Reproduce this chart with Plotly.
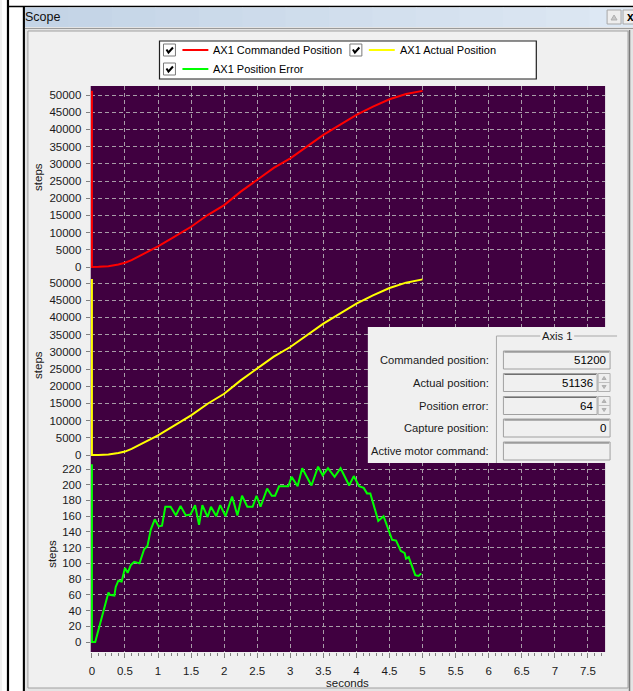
import plotly.graph_objects as go

W, H = 633, 691

# ---- data -------------------------------------------------------------
time_cmd = [0.0, 0.0, 0.1, 0.25, 0.4, 0.5, 0.6, 0.75, 0.9, 1.0, 1.25, 1.5, 1.75, 2.0,
            2.25, 2.5, 2.75, 3.0, 3.25, 3.5, 3.75, 4.0, 4.25, 4.5, 4.75, 4.9, 5.0]
cmd_pos = [51200, 0, 50, 250, 750, 1250, 2000, 3500, 4900, 6000, 8800, 11700, 15100, 18000,
           21900, 25300, 28800, 31600, 35000, 38400, 41300, 44200, 46600, 48750, 50300, 50900, 51200]

time_act = [0.0, 0.0, 0.1, 0.25, 0.4, 0.5, 0.6, 0.75, 0.9, 1.0, 1.25, 1.5, 1.75, 2.0,
            2.25, 2.5, 2.75, 3.0, 3.25, 3.5, 3.75, 4.0, 4.25, 4.5, 4.75, 4.9, 5.0]
act_pos = [51136, 0, 0, 150, 600, 1000, 1800, 3200, 4700, 5700, 8600, 11500, 14900, 17800,
           21700, 25100, 28600, 31400, 34800, 38200, 41100, 44000, 46400, 48550, 50100, 50750, 51050]

time_err = [0.0, 0.0, 0.05, 0.25, 0.27, 0.34, 0.36, 0.40, 0.45, 0.50,
            0.54, 0.59, 0.64, 0.72, 0.79, 0.84, 0.89, 0.95, 1.01, 1.06,
            1.11, 1.19, 1.27, 1.34, 1.42, 1.49, 1.56, 1.62, 1.67, 1.75,
            1.80, 1.88, 1.94, 2.02, 2.12, 2.20, 2.27, 2.35, 2.43, 2.49,
            2.55, 2.65, 2.72, 2.77, 2.83, 2.97, 3.02, 3.11, 3.18, 3.32,
            3.42, 3.49, 3.57, 3.67, 3.76, 3.89, 3.96, 4.04, 4.11, 4.16,
            4.21, 4.33, 4.41, 4.54, 4.60, 4.67, 4.73, 4.75, 4.79, 4.84,
            4.89, 4.94, 4.98]
pos_err = [226, 0, 0, 63, 60, 59, 70, 78, 77, 94,
           88, 98, 102, 100, 118, 122, 143, 156, 147, 148,
           172, 172, 161, 173, 161, 162, 174, 149, 174, 159,
           172, 160, 174, 160, 185, 161, 186, 172, 172, 186,
           172, 195, 186, 186, 198, 198, 210, 198, 221, 199,
           223, 212, 221, 210, 221, 199, 211, 198, 196, 189,
           189, 154, 160, 130, 129, 116, 113, 106, 108, 96,
           85, 84, 87]

series_names = ["AX1 Commanded Position", "AX1 Actual Position", "AX1 Position Error"]
series_colors = ["#ff0000", "#ffff00", "#00ff00"]

pos_ticks = list(range(0, 50001, 5000))
pos_labels = [str(v) for v in pos_ticks]
err_ticks = list(range(0, 221, 20))
err_labels = [str(v) for v in err_ticks]

axis_labels = ["Commanded position:", "Actual position:", "Position error:",
               "Capture position:", "Active motor command:"]
axis_values = ["51200", "51136", "64", "0", ""]

# ---- helpers (pixel -> paper) ----------------------------------------
def px(x):
    return x / W

def py(y):
    return 1 - y / H

FONT = "Liberation Sans, Arial, sans-serif"
BG = "#400040"
PL, PR, PT, PB = 89, 605, 86, 652
S1, S2 = 275, 462

fig = go.Figure()
fig.add_trace(go.Scatter(x=time_cmd, y=cmd_pos, mode="lines", xaxis="x", yaxis="y",
                         line=dict(color=series_colors[0], width=2), name=series_names[0]))
fig.add_trace(go.Scatter(x=time_act, y=act_pos, mode="lines", xaxis="x", yaxis="y2",
                         line=dict(color=series_colors[1], width=2), name=series_names[1]))
fig.add_trace(go.Scatter(x=time_err, y=pos_err, mode="lines", xaxis="x", yaxis="y3",
                         line=dict(color=series_colors[2], width=2), name=series_names[2]))

tickfont = dict(family=FONT, size=11.5, color="#1a1a1a")
grid = dict(showgrid=True, gridcolor="#a89ca8", gridwidth=1, griddash="4px,3px",
            zeroline=True, zerolinecolor=BG, zerolinewidth=1.5, showline=False,
            ticks="outside", tickcolor="#808080", tickfont=tickfont, fixedrange=True)

def yaxis(top, bottom, rng, vals, labels):
    d = dict(domain=[py(bottom), py(top)], range=rng, anchor="x",
             tickmode="array", tickvals=vals, ticktext=labels, ticklen=4, ticklabelstandoff=2)
    d.update(grid)
    return d

fig.update_layout(
    width=W, height=H, autosize=False,
    margin=dict(l=0, r=0, t=0, b=0, pad=0),
    paper_bgcolor="#f0f0f0", plot_bgcolor=BG, showlegend=False,
    xaxis=dict(domain=[px(PL), px(PR)], range=[-0.018, 7.76], anchor="y3",
               tickmode="linear", tick0=0, dtick=0.5, ticklen=5, ticklabelstandoff=3,
               minor=dict(tick0=0, dtick=0.1, ticks="outside", ticklen=3,
                          tickcolor="#808080", showgrid=False),
               **grid),
    yaxis=yaxis(PT, S1, [-2326, 52616], pos_ticks, pos_labels),
    yaxis2=yaxis(S1, S2, [-2034, 52326], pos_ticks, pos_labels),
    yaxis3=yaxis(S2, PB, [-12.7, 228.9], err_ticks, err_labels),
)

shapes = []
ann = []

def rect(x0, y0, x1, y1, fill=None, line=None, lw=1, layer="above"):
    shapes.append(dict(type="rect", xref="paper", yref="paper",
                       x0=px(x0), x1=px(x1), y0=py(y1), y1=py(y0),
                       fillcolor=fill or "rgba(0,0,0,0)",
                       line=dict(color=line or "rgba(0,0,0,0)", width=lw if line else 0),
                       layer=layer))

def hline(x0, x1, y, color, lw=1, layer="above"):
    shapes.append(dict(type="line", xref="paper", yref="paper",
                       x0=px(x0), x1=px(x1), y0=py(y), y1=py(y),
                       line=dict(color=color, width=lw), layer=layer))

def vline(x, y0, y1, color, lw=1, layer="above"):
    shapes.append(dict(type="line", xref="paper", yref="paper",
                       x0=px(x), x1=px(x), y0=py(y0), y1=py(y1),
                       line=dict(color=color, width=lw), layer=layer))

def text(x, y, s, size=11.5, xanchor="left", color="#1a1a1a", angle=0, bold=False):
    ann.append(dict(x=px(x), y=py(y), xref="paper", yref="paper", text=("<b>%s</b>" % s) if bold else s,
                    showarrow=False, xanchor=xanchor, yanchor="middle", textangle=angle,
                    font=dict(family=FONT, size=size, color=color)))

def path(points, color, lw=1, fill=None, closed=False):
    d = "M " + " L ".join("%f,%f" % (px(a), py(b)) for a, b in points)
    if closed:
        d += " Z"
    shapes.append(dict(type="path", xref="paper", yref="paper", path=d,
                       line=dict(color=color, width=lw),
                       fillcolor=fill or "rgba(0,0,0,0)", layer="above"))

# ---- window frame -----------------------------------------------------
rect(0, 0, 22, H, fill="#ffffff", layer="below")
rect(0, 0, W, 6, fill="#ffffff", layer="below")
vline(6, 0, H, "#000000", 2.2, layer="below")
vline(22, 6, H, "#000000", 2.2, layer="below")
hline(6, W, 6.5, "#000000", 1.5, layer="below")

# title bar with a soft horizontal gradient
n = 14
c0, c1 = (196, 212, 230), (221, 232, 244)
for i in range(n):
    f = i / (n - 1)
    col = "rgb(%d,%d,%d)" % tuple(int(c0[k] + (c1[k] - c0[k]) * f) for k in range(3))
    xa = 23 + (W - 23) * i / n
    xb = 23 + (W - 23) * (i + 1) / n + 1
    rect(xa, 7.5, xb, 27, fill=col, layer="below")
text(21, 17, "Scope", size=12.5, color="#101010")

rect(607, 10, 621, 24, fill="#eeeeee", line="#a8a8a8")
path([(611, 20), (614, 15), (617, 20)], "#b0b0b0", 1, fill="#c8c8c8", closed=True)
rect(623, 10, 640, 24, fill="#eeeeee", line="#a8a8a8")
text(625, 17, "x", size=12, color="#000000", bold=True)

rect(23, 27, W, H, fill="#e4e4e4", layer="below")
hline(23, W, 28.5, "#9a9a9a", 1, layer="below")
rect(26, 31, 628, 688, fill="#f0f0f0", line="#a0a0a0", lw=1, layer="below")
vline(629.5, 30, H, "#7a7a7a", 1.5, layer="below")

# plot area background (drawn as a shape so it sits above the frame panel)
rect(PL, PT, PR, PB, fill=BG, layer="below")

# ---- legend -------------------------------------------------------------
rect(158, 41, 536, 79, fill="#ffffff", line="#202020", lw=1.2)

def checkbox(x0, y0):
    rect(x0, y0, x0 + 12, y0 + 12, fill="#ffffff", line="#7a7a7a")
    path([(x0 + 3, y0 + 5.5), (x0 + 5, y0 + 8.5), (x0 + 9.5, y0 + 3.5)], "#000000", 2)

legend_rows = [(162, 50, 0), (349, 50, 1), (162, 69, 2)]
for lx, ly, idx in legend_rows:
    checkbox(lx, ly - 6)
    hline(lx + 19, lx + 45, ly, series_colors[idx], 2)
    text(lx + 48, ly, series_names[idx], size=11, color="#000000")

# ---- axis titles -------------------------------------------------------------
text(36, 177, "steps", size=11.5, xanchor="center", angle=-90)
text(36, 365, "steps", size=11.5, xanchor="center", angle=-90)
text(50, 554, "steps", size=11.5, xanchor="center", angle=-90)
text((PL + PR) / 2, 683, "seconds", size=11.5, xanchor="center")

# ---- axis status panel -----------------------------------------------------
rect(367, 327, 612, 463, fill="#f0f0f0")
hline(496, 540, 336, "#a8a8a8")
hline(574, 617, 336, "#a8a8a8")
vline(496, 336, 463, "#a8a8a8")
text(557, 336, "Axis 1", size=11.2, xanchor="center", color="#1a1a1a")

row_y = [360, 382.5, 405.5, 428, 451]
for i, (lab, val) in enumerate(zip(axis_labels, axis_values)):
    yc = row_y[i]
    text(491, yc, lab, size=11.2, xanchor="right")
    spin = i in (1, 2)
    right = 597 if spin else 610
    rect(503, yc - 9, right, yc + 9, fill="#f0f0f0", line="#a0a0a0")
    hline(504, right - 1, yc - 8, "#707070")
    if val:
        text(right - 2, yc, val, size=11.5, xanchor="right", color="#000000")
    if spin:
        rect(598, yc - 9, 610, yc + 9, fill="#eeeeee", line="#b0b0b0")
        hline(598, 610, yc, "#c0c0c0")
        path([(602, yc - 3), (604, yc - 6), (606, yc - 3)], "#b0b0b0", 1, fill="#b8b8b8", closed=True)
        path([(602, yc + 3), (604, yc + 6), (606, yc + 3)], "#b0b0b0", 1, fill="#b8b8b8", closed=True)

fig.update_layout(shapes=shapes, annotations=ann)
fig.write_html("out.html", config={"displayModeBar": False, "staticPlot": True})
